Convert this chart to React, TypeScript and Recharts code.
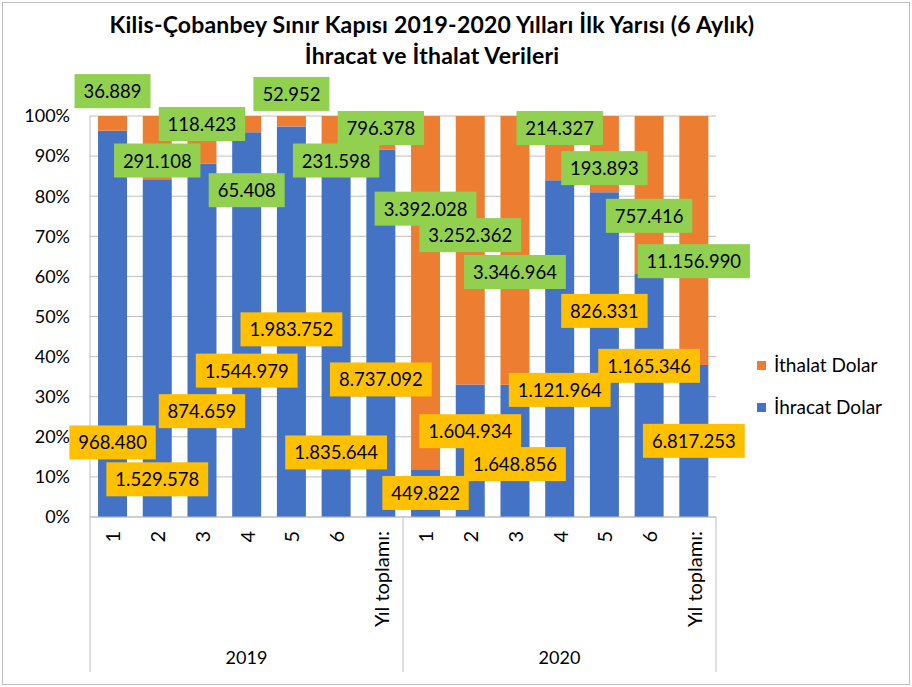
import React from "react";
import { BarChart, Bar, XAxis, YAxis, CartesianGrid, LabelList } from "recharts";

// months 1-6 plus the year total, for 2019 and 2020
const periods = ["1", "2", "3", "4", "5", "6", "Yıl toplamı:", "1", "2", "3", "4", "5", "6", "Yıl toplamı:"];
const years = ["2019", "2019", "2019", "2019", "2019", "2019", "2019", "2020", "2020", "2020", "2020", "2020", "2020", "2020"];
const ihracat = [968480, 1529578, 874659, 1544979, 1983752, 1835644, 8737092, 449822, 1604934, 1648856, 1121964, 826331, 1165346, 6817253];
const ithalat = [36889, 291108, 118423, 65408, 52952, 231598, 796378, 3392028, 3252362, 3346964, 214327, 193893, 757416, 11156990];
const yTicks = [0, 0.1, 0.2, 0.3, 0.4, 0.5, 0.6, 0.7, 0.8, 0.9, 1];

// labels were dragged around by hand in the original, so keep where they sit (in % of the axis)
const ihracatLabelAt = [18.6, 9.4, 26.4, 36.5, 46.8, 16.1, 34.3, 6.0, 21.4, 13.2, 31.7, 51.4, 37.7, 19.0];
const ithalatLabelAt = [106.2, 88.9, 98.0, 81.5, 105.5, 88.9, 97.0, 76.9, 70.3, 61.1, 97.0, 87.0, 75.1, 63.8];

const FONT = "Lato, 'Open Sans', sans-serif";
const BLUE = "#4472C4";
const ORANGE = "#ED7D31";
const GREEN = "#92D050";
const YELLOW = "#FFC000";
const GRID = "#bfbfbf";

const data = periods.map((p, i) => ({
  period: p,
  year: years[i],
  ihracat: ihracat[i],
  ithalat: ithalat[i],
}));

const fmt = (v: number) => String(v).replace(/\B(?=(\d{3})+(?!\d))/g, ".");
const textW = (s: string) => s.split("").reduce((w, c) => w + (c === "." ? 5 : 10.4), 0);

// drawn from the ithalat segment: it always reaches 100%, so its top and share give the plot scale
function boxLabel(kind: "ihr" | "ith") {
  return (props: any) => {
    const { x, y, width, height, index } = props;
    const share = ithalat[index] / (ihracat[index] + ithalat[index]);
    const plotH = height / share;
    const pos = (kind === "ihr" ? ihracatLabelAt : ithalatLabelAt)[index];
    const cy = y + ((100 - pos) / 100) * plotH;
    const cx = x + width / 2;
    const txt = fmt(kind === "ihr" ? ihracat[index] : ithalat[index]);
    const w = textW(txt) + 19;
    const h = 34;
    return (
      <g>
        <rect x={cx - w / 2} y={cy - h / 2} width={w} height={h} fill={kind === "ihr" ? YELLOW : GREEN} />
        <text x={cx} y={cy} textAnchor="middle" dominantBaseline="central" fontSize={18.5} fill="#000" fontFamily={FONT}>
          {txt}
        </text>
      </g>
    );
  };
}

function PeriodTick(props: any) {
  const { x, y, payload, index } = props;
  const half = payload?.offset ?? 22.35;
  const lineLen = 155;
  return (
    <g>
      <text
        x={x}
        y={y + 14}
        transform={`rotate(-90, ${x}, ${y + 14})`}
        textAnchor="end"
        dominantBaseline="central"
        fontSize={20}
        fill="#000"
        fontFamily={FONT}
      >
        {payload.value}
      </text>
      {(index === 0 || index === 7) && (
        <line x1={x - half} x2={x - half} y1={y} y2={y + lineLen} stroke={GRID} />
      )}
      {index === 13 && <line x1={x + half} x2={x + half} y1={y} y2={y + lineLen} stroke={GRID} />}
      {(index === 3 || index === 10) && (
        <text x={x} y={y + 140} textAnchor="middle" dominantBaseline="central" fontSize={18} fill="#000" fontFamily={FONT}>
          {years[index]}
        </text>
      )}
    </g>
  );
}

export default function App() {
  return (
    <div style={{ position: "absolute", left: 0, top: 0, width: 912, height: 687, background: "#fff", fontFamily: FONT }}>
      <div
        style={{
          position: "absolute", left: 2, top: 2, width: 908, height: 683,
          border: `1px solid ${GRID}`, boxSizing: "border-box",
        }}
      />
      <div
        style={{
          position: "absolute", left: 2, width: 860, top: 9, textAlign: "center",
          fontWeight: 700, fontSize: 23, letterSpacing: 0.2, lineHeight: "31px", color: "#000",
        }}
      >
        Kilis-Çobanbey Sınır Kapısı 2019-2020 Yılları İlk Yarısı (6 Aylık)
        <br />
        İhracat ve İthalat Verileri
      </div>

      <BarChart
        width={912}
        height={687}
        data={data}
        stackOffset="expand"
        barCategoryGap="18%"
        margin={{ top: 116, right: 196, bottom: 15, left: 0 }}
        style={{ position: "absolute", left: 0, top: 0 }}
      >
        <CartesianGrid vertical={false} stroke={GRID} />
        <YAxis
          domain={[0, 1]}
          ticks={yTicks}
          width={90}
          tickLine={false}
          tickSize={0}
          tickMargin={20}
          axisLine={{ stroke: GRID }}
          tickFormatter={(v: number) => `${Math.round(v * 100)}%`}
          tick={{ fontSize: 18, fill: "#000", fontFamily: FONT }}
        />
        <XAxis
          dataKey="period"
          height={155}
          interval={0}
          tickLine={false}
          tickSize={0}
          tickMargin={0}
          axisLine={{ stroke: GRID }}
          tick={<PeriodTick />}
        />
        <Bar dataKey="ihracat" name="İhracat Dolar" stackId="a" fill={BLUE} isAnimationActive={false} />
        <Bar dataKey="ithalat" name="İthalat Dolar" stackId="a" fill={ORANGE} isAnimationActive={false}>
          <LabelList dataKey="ithalat" content={boxLabel("ihr")} />
          <LabelList dataKey="ithalat" content={boxLabel("ith")} />
        </Bar>
      </BarChart>

      {/* legend */}
      <div style={{ position: "absolute", left: 757, top: 351, fontSize: 19, color: "#000", lineHeight: "28px" }}>
        <div style={{ display: "flex", alignItems: "center" }}>
          <span style={{ width: 9, height: 9, background: ORANGE, marginRight: 8 }} />
          İthalat Dolar
        </div>
        <div style={{ display: "flex", alignItems: "center", marginTop: 14 }}>
          <span style={{ width: 9, height: 9, background: BLUE, marginRight: 8 }} />
          İhracat Dolar
        </div>
      </div>
    </div>
  );
}
